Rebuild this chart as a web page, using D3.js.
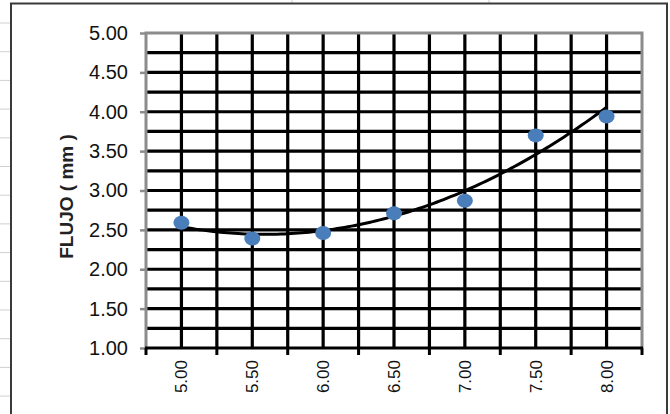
<!DOCTYPE html>
<html><head><meta charset="utf-8">
<script src="https://cdn.jsdelivr.net/npm/d3@7"></script>
<style>
html,body{margin:0;padding:0;background:#fff;}
svg{display:block;}
text{font-family:"Liberation Sans",Arial,sans-serif;}
</style></head>
<body>
<svg id="chart" width="670" height="414"></svg>
<script>
const categories = ["5.00","5.50","6.00","6.50","7.00","7.50","8.00"];
const flujo = [2.59, 2.39, 2.46, 2.71, 2.87, 3.70, 3.94];
const yTicks = [1.00,1.50,2.00,2.50,3.00,3.50,4.00,4.50,5.00];
const yMinorTicks = [1.25,1.75,2.25,2.75,3.25,3.75,4.25,4.75];
const yTitle = "FLUJO ( mm )";

const svg = d3.select("#chart");
const W = 670, H = 414;
const L = 146, R = 642, T = 33, B = 348;

// spreadsheet background
svg.append("rect").attr("width", W).attr("height", H).attr("fill", "#fff");
const sheetRows = d3.range(23, H, 28.7);
svg.selectAll(".srow").data(sheetRows).enter().append("line")
  .attr("x1", 0).attr("x2", 11).attr("y1", d => d).attr("y2", d => d)
  .attr("stroke", "#d0d0d0").attr("stroke-width", 1);
[292, 489].forEach(xx => svg.append("line").attr("x1", xx).attr("x2", xx)
  .attr("y1", 0).attr("y2", 3).attr("stroke", "#d0d0d0"));

// chart area
svg.append("rect").attr("x", 11).attr("y", 3.5).attr("width", 656).attr("height", 420)
  .attr("fill", "#fff").attr("stroke", "#3a3a3a").attr("stroke-width", 2);

const x = d3.scaleBand().domain(categories).range([L, R]).padding(0);
const bw = x.bandwidth();
const xi = d3.scaleLinear().domain([0.5, categories.length + 0.5]).range([L, R]);
const y = d3.scaleLinear().domain([1, 5]).range([B, T]);

// horizontal grid lines (every 0.25)
const hGrid = yTicks.concat(yMinorTicks).filter(v => v > 1 && v < 5);
svg.append("g").selectAll("line").data(hGrid).enter().append("line")
  .attr("x1", L).attr("x2", R).attr("y1", d => y(d)).attr("y2", d => y(d))
  .attr("stroke", "#000").attr("stroke-width", 3.2);

// vertical grid lines (category boundaries and centers)
const vGrid = [];
categories.forEach((c, i) => { if (i > 0) vGrid.push(x(c)); vGrid.push(x(c) + bw / 2); });
svg.append("g").selectAll("line").data(vGrid).enter().append("line")
  .attr("x1", d => d).attr("x2", d => d).attr("y1", T).attr("y2", B)
  .attr("stroke", "#000").attr("stroke-width", 3.2);

// plot border (grey) left, top, right
svg.append("path")
  .attr("d", `M${L},${B} L${L},${T} L${R},${T} L${R},${B}`)
  .attr("fill", "none").attr("stroke", "#8c8c8c").attr("stroke-width", 3);

// y axis
const yAxis = d3.axisLeft(y).tickValues(yTicks).tickFormat(d3.format(".2f"))
  .tickSize(6).tickPadding(12);
const gy = svg.append("g").attr("transform", `translate(${L},0)`).call(yAxis);
gy.select(".domain").remove();
gy.selectAll(".tick line").attr("stroke", "#8c8c8c").attr("stroke-width", 2.5);
gy.selectAll(".tick text").attr("font-size", 20).attr("fill", "#111")
  .style("font-family", "'Liberation Sans', Arial, sans-serif");

// x axis
const xAxis = d3.axisBottom(x).tickSize(0).tickPadding(0);
const gx = svg.append("g").attr("transform", `translate(0,${B})`).call(xAxis);
gx.select(".domain").remove();
gx.selectAll(".tick text")
  .attr("font-size", 17).attr("fill", "#111")
  .style("font-family", "'Liberation Sans', Arial, sans-serif")
  .attr("text-anchor", "end").attr("dy", null)
  .attr("transform", "translate(6,12) rotate(-90)")
  .attr("y", 0).attr("x", 0);
// x axis line & boundary ticks (black)
svg.append("line").attr("x1", L - 1).attr("x2", R + 1).attr("y1", B).attr("y2", B)
  .attr("stroke", "#000").attr("stroke-width", 3);
const bounds = categories.map(c => x(c)).concat([R]);
svg.append("g").selectAll("line").data(bounds).enter().append("line")
  .attr("x1", d => d).attr("x2", d => d).attr("y1", B).attr("y2", B + 7)
  .attr("stroke", "#000").attr("stroke-width", 3);

// y title
svg.append("text").attr("transform", `translate(73,${(T + B) / 2 + 6}) rotate(-90)`)
  .attr("text-anchor", "middle").attr("font-size", 19).attr("font-weight", "bold")
  .attr("fill", "#222").text(yTitle);

// polynomial (order 2) trendline fitted to the data
const n = flujo.length;
const xs = d3.range(1, n + 1);
const xm = d3.mean(xs);
const ts = xs.map(v => v - xm);
const S2 = d3.sum(ts, t => t * t), S4 = d3.sum(ts, t => t ** 4);
const Sy = d3.sum(flujo), Sty = d3.sum(ts, (t, i) => t * flujo[i]), St2y = d3.sum(ts, (t, i) => t * t * flujo[i]);
const b1 = Sty / S2;
const c2 = (St2y - S2 * Sy / n) / (S4 - S2 * S2 / n);
const a0 = (Sy - c2 * S2) / n;
const fit = t => a0 + b1 * t + c2 * t * t;
const samples = d3.range(1, n + 0.0001, 0.05);
svg.append("path").datum(samples)
  .attr("d", d3.line().x(v => xi(v)).y(v => y(fit(v - xm))))
  .attr("fill", "none").attr("stroke", "#000").attr("stroke-width", 3);

// markers
svg.append("g").selectAll("ellipse").data(flujo).enter().append("ellipse")
  .attr("cx", (d, i) => x(categories[i]) + bw / 2).attr("cy", d => y(d))
  .attr("rx", 8).attr("ry", 7).attr("fill", "#4a7ebb");
</script>
</body></html>
